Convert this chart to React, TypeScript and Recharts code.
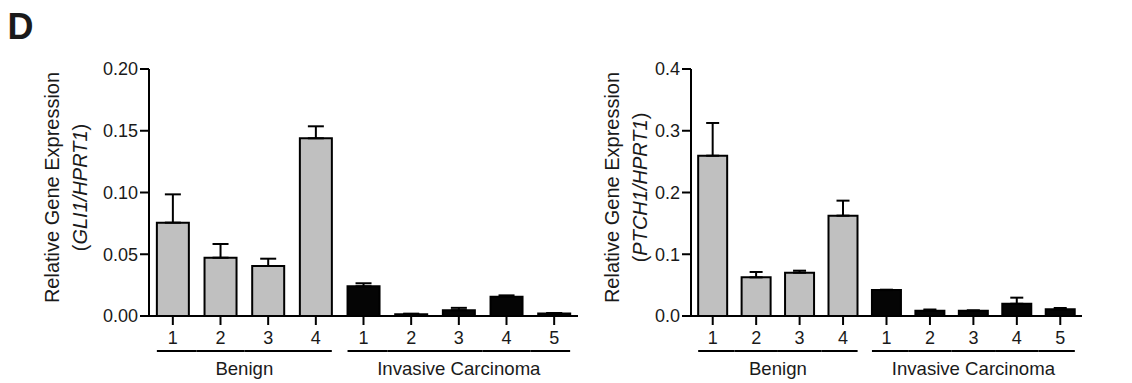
import { BarChart, Bar, XAxis, YAxis, ErrorBar, Cell } from "recharts"

// sample groups and labels (shared by both panels)
const ids = ["B1", "B2", "B3", "B4", "IC1", "IC2", "IC3", "IC4", "IC5"]
const sampleLabels = ["1", "2", "3", "4", "1", "2", "3", "4", "5"]
const groups = [
    "Benign", "Benign", "Benign", "Benign",
    "Invasive Carcinoma", "Invasive Carcinoma", "Invasive Carcinoma", "Invasive Carcinoma", "Invasive Carcinoma",
]

// GLI1 / HPRT1
const gli1Values = [0.0756, 0.0472, 0.0405, 0.1439, 0.0240, 0.0015, 0.0047, 0.0155, 0.0020]
const gli1Errors = [0.0229, 0.0111, 0.0059, 0.0097, 0.0025, 0.0004, 0.0019, 0.0012, 0.0004]
const gli1Ticks = [0, 0.05, 0.1, 0.15, 0.2]

// PTCH1 / HPRT1
const ptch1Values = [0.2596, 0.0626, 0.0702, 0.1625, 0.0420, 0.0086, 0.0087, 0.0198, 0.0108]
const ptch1Errors = [0.0530, 0.0087, 0.0032, 0.0243, 0.0006, 0.0019, 0.0003, 0.0099, 0.0022]
const ptch1Ticks = [0, 0.1, 0.2, 0.3, 0.4]

const GAP = 0.165
const FONT = "'Liberation Sans', Arial, Helvetica, sans-serif"
const TEXT = "#1a1a1a"

const fills: Record<string, string> = {
    "Benign": "#c0c0c0",
    "Invasive Carcinoma": "#050505",
}

const buildRows = (values: number[], errors: number[]) =>
    ids.map((id, i) => ({
        id,
        group: groups[i],
        value: values[i],
        err: [0, errors[i]],
    }))

function GroupTick(props: any) {
    const { x, y, payload, width, visibleTicksCount } = props
    const i = payload.index
    const band = width / visibleTicksCount
    const barHalf = band * (0.5 - GAP)
    const g = groups[i]
    const first = i === 0 || groups[i - 1] !== g
    const last = i === groups.length - 1 || groups[i + 1] !== g
    const x1 = first ? x - barHalf : x - band / 2
    const x2 = last ? x + barHalf : x + band / 2
    const members = groups.filter((v) => v === g).length

    return (
        <g>
            <text x={x} y={y + 17} textAnchor="middle" fontSize={18} fill={TEXT} fontFamily={FONT}>
                {sampleLabels[i]}
            </text>
            <line x1={x1} x2={x2} y1={y + 24} y2={y + 24} stroke="#000" strokeWidth={2} />
            {first && (
                <text
                    x={x + ((members - 1) * band) / 2}
                    y={y + 48}
                    textAnchor="middle"
                    fontSize={18.6}
                    fill={TEXT}
                    fontFamily={FONT}
                >
                    {g}
                </text>
            )}
        </g>
    )
}

function YLabel(props: any) {
    const { viewBox, gene, shift } = props
    const right = viewBox.x + viewBox.width
    const cy = viewBox.y + viewBox.height / 2 - 5
    const x1 = right - shift
    const x2 = x1 + 28
    return (
        <g fontFamily={FONT} fontSize={20} fill={TEXT}>
            <text x={x1} y={cy} textAnchor="middle" dominantBaseline="central" transform={`rotate(-90, ${x1}, ${cy})`}>
                Relative Gene Expression
            </text>
            <text x={x2} y={cy} textAnchor="middle" dominantBaseline="central" transform={`rotate(-90, ${x2}, ${cy})`}>
                (<tspan fontStyle="italic">{gene}/HPRT1</tspan>)
            </text>
        </g>
    )
}

type PanelProps = {
    values: number[]
    errors: number[]
    ticks: number[]
    digits: number
    gene: string
    width: number
    axisWidth: number
    rightMargin: number
    labelShift: number
    capWidth: number
}

function Panel({ values, errors, ticks, digits, gene, width, axisWidth, rightMargin, labelShift, capWidth }: PanelProps) {
    const rows = buildRows(values, errors)
    return (
        <BarChart
            width={width}
            height={383}
            data={rows}
            margin={{ top: 69, right: rightMargin, bottom: 0, left: 0 }}
            barCategoryGap={`${GAP * 100}%`}
        >
            <XAxis
                dataKey="id"
                height={67}
                axisLine={{ stroke: "#000", strokeWidth: 2 }}
                tickLine={{ stroke: "#000", strokeWidth: 2 }}
                tickSize={9}
                interval={0}
                tick={(p: any) => <GroupTick {...p} />}
            />
            <YAxis
                width={axisWidth}
                domain={[ticks[0], ticks[ticks.length - 1]]}
                ticks={ticks}
                tickFormatter={(v: number) => v.toFixed(digits)}
                axisLine={{ stroke: "#000", strokeWidth: 2 }}
                tickLine={{ stroke: "#000", strokeWidth: 2 }}
                tickSize={9}
                tick={{ fill: TEXT, fontSize: 18, fontFamily: FONT }}
                label={<YLabel gene={gene} shift={labelShift} />}
            />
            <Bar dataKey="value" stroke="#000" strokeWidth={2} isAnimationActive={false}>
                {rows.map((r) => (
                    <Cell key={r.id} fill={fills[r.group]} />
                ))}
                <ErrorBar dataKey="err" direction="y" width={capWidth} stroke="#000" strokeWidth={2} />
            </Bar>
        </BarChart>
    )
}

export default function App() {
    return (
        <div style={{ position: "absolute", left: 0, top: 0, width: 1132, height: 383, background: "#fff" }}>
            <div
                style={{
                    position: "absolute",
                    left: 7.5,
                    top: 8.5,
                    fontFamily: FONT,
                    fontWeight: "bold",
                    fontSize: 36,
                    lineHeight: 1,
                    color: TEXT,
                }}
            >
                D
            </div>
            <div style={{ position: "absolute", left: 0, top: 0 }}>
                <Panel
                    values={gli1Values}
                    errors={gli1Errors}
                    ticks={gli1Ticks}
                    digits={2}
                    gene="GLI1"
                    width={580}
                    axisWidth={149}
                    rightMargin={2}
                    labelShift={97}
                    capWidth={8}
                />
            </div>
            <div style={{ position: "absolute", left: 580, top: 0 }}>
                <Panel
                    values={ptch1Values}
                    errors={ptch1Errors}
                    ticks={ptch1Ticks}
                    digits={1}
                    gene="PTCH1"
                    width={552}
                    axisWidth={111}
                    rightMargin={50}
                    labelShift={79}
                    capWidth={6.5}
                />
            </div>
        </div>
    )
}
